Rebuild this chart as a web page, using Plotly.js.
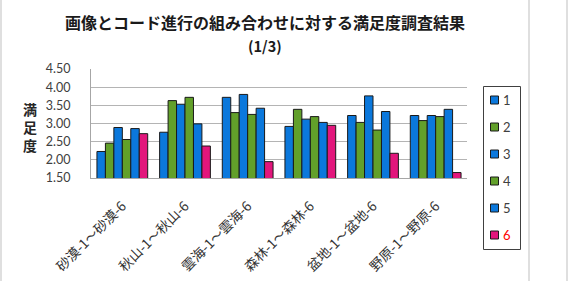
<!DOCTYPE html>
<html>
<head>
<meta charset="utf-8">
<script src="https://cdn.plot.ly/plotly-3.0.1.min.js"></script>
<style>
  html, body { margin: 0; padding: 0; background: #fff; }
  #chart { width: 571px; height: 281px; }
</style>
</head>
<body>
<div id="chart"></div>
<script>
// Scene categories (each group covers images 1–6 of a scene)
const categories = ['砂漠-1～砂漠-6', '秋山-1～秋山-6', '雲海-1～雲海-6', '森林-1～森林-6', '盆地-1～盆地-6', '野原-1～野原-6'];

// Mean satisfaction score per chord progression, one array per progression
const prog1 = [2.23, 2.76, 3.72, 2.92, 3.22, 3.22];
const prog2 = [2.46, 3.63, 3.30, 3.39, 3.03, 3.08];
const prog3 = [2.89, 3.53, 3.80, 3.12, 3.76, 3.22];
const prog4 = [2.56, 3.72, 3.25, 3.19, 2.82, 3.19];
const prog5 = [2.86, 2.99, 3.42, 3.03, 3.33, 3.39];
const prog6 = [2.72, 2.38, 1.95, 2.95, 2.18, 1.65];

const seriesNames = ['1', '2', '3', '4', '5', '6'];
const seriesValues = [prog1, prog2, prog3, prog4, prog5, prog6];
const seriesColors = ['#0b78dc', '#62a02a', '#0b78dc', '#62a02a', '#0b78dc', '#e2167c'];
const legendTextColors = ['#404040', '#404040', '#404040', '#404040', '#404040', '#ff0000'];

const yTickVals = [1.5, 2.0, 2.5, 3.0, 3.5, 4.0, 4.5];
const yTickText = ['1.50', '2.00', '2.50', '3.00', '3.50', '4.00', '4.50'];

const traces = seriesValues.map((vals, i) => ({
  type: 'bar',
  name: seriesNames[i],
  x: categories,
  y: vals,
  base: 0,
  marker: { color: seriesColors[i], line: { color: '#1a1a1a', width: 1 } },
  hoverinfo: 'x+y'
}));

// Plot area geometry in pixels
const L = 91, R = 104, T = 69, B = 103, W = 571, H = 281;
const pw = W - L - R, ph = H - T - B;
const px = v => (v - L) / pw;          // pixel x -> paper x
const py = v => (H - B - v) / ph;      // pixel y -> paper y

// Frame lines of the chart sheet
const shapes = [
  { type: 'line', xref: 'paper', yref: 'paper', x0: px(1), x1: px(1), y0: -2, y1: 2, line: { color: '#bfbfbf', width: 1 } },
  { type: 'line', xref: 'paper', yref: 'paper', x0: px(529), x1: px(529), y0: -2, y1: 2, line: { color: '#bfbfbf', width: 1 } },
  { type: 'line', xref: 'paper', yref: 'paper', x0: px(567), x1: px(567), y0: -2, y1: 2, line: { color: '#bfbfbf', width: 1 } },
  // legend box
  { type: 'rect', xref: 'paper', yref: 'paper', x0: px(483.5), x1: px(520.5), y0: py(86.5), y1: py(249.5),
    fillcolor: '#ffffff', line: { color: '#404040', width: 1 } }
];

const annotations = [
  {
    text: '<b>画像とコード進行の組み合わせに対する満足度調査結果</b>',
    xref: 'paper', yref: 'paper', x: px(265), y: py(22), xanchor: 'center', yanchor: 'middle',
    showarrow: false, font: { family: "'Noto Sans CJK JP', sans-serif", size: 16, color: '#1a1a1a' }
  },
  {
    text: '<b>(1/3)</b>',
    xref: 'paper', yref: 'paper', x: px(265), y: py(46), xanchor: 'center', yanchor: 'middle',
    showarrow: false, font: { family: "'Noto Sans CJK JP', sans-serif", size: 14.5, color: '#1a1a1a' }
  },
  {
    text: '<b>満<br>足<br>度</b>',
    xref: 'paper', yref: 'paper', x: px(30), y: py(127), xanchor: 'center', yanchor: 'middle',
    showarrow: false, font: { family: "'Noto Sans CJK JP', sans-serif", size: 14, color: '#262626' }
  }
];

// Legend entries: one swatch and label per series
seriesNames.forEach((name, i) => {
  const cy = 100 + i * 27;
  shapes.push({
    type: 'rect', xref: 'paper', yref: 'paper',
    x0: px(490.5), x1: px(498.5), y0: py(cy + 4), y1: py(cy - 4),
    fillcolor: seriesColors[i], line: { color: '#1a1a1a', width: 1 }
  });
  annotations.push({
    text: name, xref: 'paper', yref: 'paper', x: px(501), y: py(cy),
    xanchor: 'left', yanchor: 'middle', showarrow: false,
    font: { family: "Lato, sans-serif", size: 13, color: legendTextColors[i] }
  });
});

const layout = {
  width: W,
  height: H,
  margin: { l: L, r: R, t: T, b: B, pad: 0 },
  paper_bgcolor: '#ffffff',
  plot_bgcolor: '#ffffff',
  font: { family: "Lato, 'Noto Sans CJK JP', sans-serif", size: 12, color: '#404040' },
  barmode: 'group',
  bargap: 0.19,
  bargroupgap: 0,
  showlegend: false,
  xaxis: {
    type: 'category',
    tickangle: -45,
    tickfont: { family: "'Noto Sans CJK JP', sans-serif", size: 13.5, color: '#333' },
    ticklabelstandoff: 14,
    showline: true, linecolor: '#a6a6a6', linewidth: 1,
    showgrid: false, ticks: '',
    fixedrange: true
  },
  yaxis: {
    range: [1.5, 4.5],
    tickvals: yTickVals,
    ticktext: yTickText,
    tickfont: { family: "Lato, sans-serif", size: 12.5, color: '#404040' },
    ticklabelstandoff: 17,
    showline: true, linecolor: '#a6a6a6', linewidth: 1,
    showgrid: true, gridcolor: '#b4b4b4', gridwidth: 1,
    zeroline: false, ticks: '',
    fixedrange: true
  },
  shapes: shapes,
  annotations: annotations
};

Plotly.newPlot('chart', traces, layout, { displayModeBar: false, staticPlot: true });
</script>
</body>
</html>
